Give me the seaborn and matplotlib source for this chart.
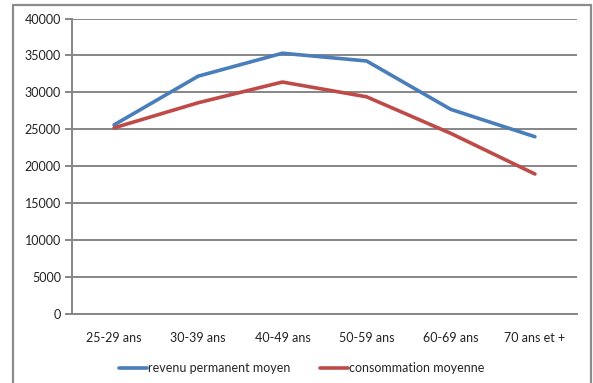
import matplotlib
matplotlib.use("Agg")
import matplotlib.pyplot as plt
import seaborn as sns
import pandas as pd
from matplotlib.patches import Rectangle

categories = ["25-29 ans", "30-39 ans", "40-49 ans", "50-59 ans", "60-69 ans", "70 ans et +"]
revenu = [25600, 32200, 35300, 34250, 27700, 24000]
consommation = [25200, 28600, 31400, 29400, 24450, 18950]
series_names = ["revenu permanent moyen", "consommation moyenne"]
y_ticks = [0, 5000, 10000, 15000, 20000, 25000, 30000, 35000, 40000]

df = pd.DataFrame({
    "age": categories * 2,
    "valeur": revenu + consommation,
    "serie": [series_names[0]] * len(categories) + [series_names[1]] * len(categories),
})

sns.set_style("white")
plt.rcParams['font.family'] = ['Lato', 'DejaVu Sans']

fig = plt.figure(figsize=(5.93, 3.83), dpi=100)
ax = fig.add_axes([72/593, 1 - 314/383, (577-72)/593, (314-18.5)/383])

grey = "#868686"
ax.set_axisbelow(True)
ax.yaxis.grid(True, color=grey, linewidth=1.4)
ax.xaxis.grid(False)

sns.lineplot(data=df, x="age", y="valeur", hue="serie", sort=False,
             palette=["#4A7EBB", "#BE4B48"], linewidth=2.6, ax=ax, legend=True)

ax.set_xlim(-0.5, len(categories) - 0.5)
ax.set_ylim(0, 40000)
ax.set_yticks(y_ticks)
ax.set_yticklabels([str(v) for v in y_ticks], fontsize=9, color="#222222")
ax.set_xticks(range(len(categories)))
ax.set_xticklabels(categories, fontsize=9, color="#222222")
ax.set_xticks([i - 0.5 for i in range(len(categories) + 1)], minor=True)
ax.tick_params(axis="x", which="major", length=0, pad=13)
ax.tick_params(axis="x", which="minor", length=5, width=1.4, color=grey, direction="out")
ax.tick_params(axis="y", length=5, width=1.4, color=grey, direction="out", pad=3, left=True)
ax.set_xlabel("")
ax.set_ylabel("")

for s in ["top", "right"]:
    ax.spines[s].set_visible(False)
for s in ["left", "bottom"]:
    ax.spines[s].set_color(grey)
    ax.spines[s].set_linewidth(1.4)

handles, labels = ax.get_legend_handles_labels()
ax.legend(handles, labels, loc="center", bbox_to_anchor=(302/593, 1 - 368/383),
          bbox_transform=fig.transFigure, ncol=2, frameon=False, fontsize=9,
          handlelength=2.2, handletextpad=0.1, columnspacing=2.4)

fig.patches.append(Rectangle((12.5/593, -0.05), (591-12.5)/593, 1 - 4.5/383 + 0.05,
                             transform=fig.transFigure, fill=False,
                             edgecolor="#8c8c8c", linewidth=1.6))

fig.savefig("out.png", dpi=100)
